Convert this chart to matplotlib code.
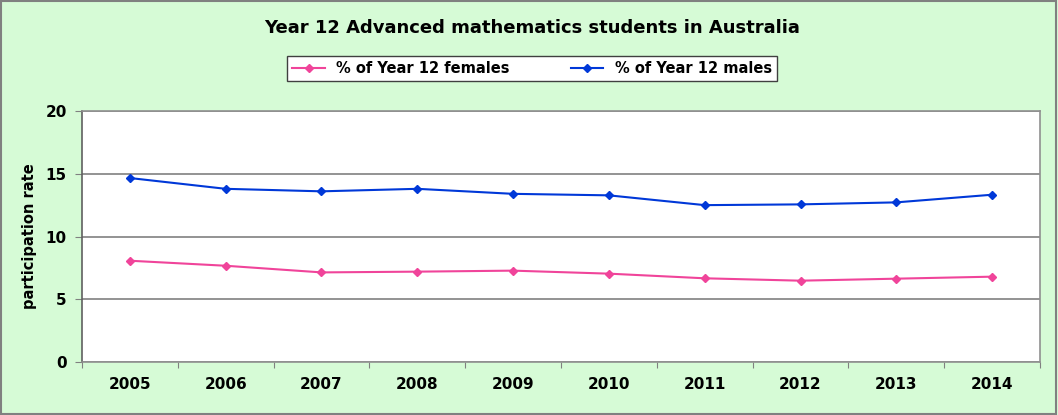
import matplotlib
matplotlib.use("Agg")
import matplotlib.pyplot as plt
from matplotlib.patches import Rectangle
from matplotlib.ticker import FixedLocator, NullFormatter

years = ["2005", "2006", "2007", "2008", "2009", "2010", "2011", "2012", "2013", "2014"]
females = [8.07, 7.67, 7.14, 7.2, 7.28, 7.04, 6.67, 6.48, 6.64, 6.8]
males = [14.66, 13.8, 13.6, 13.8, 13.4, 13.28, 12.5, 12.56, 12.72, 13.33]

bg = "#D6FBD6"
pink = "#F0449A"
blue = "#0038D8"

fig = plt.figure(figsize=(10.58, 4.15), dpi=100, facecolor=bg)
ax = fig.add_axes([0.0775, 0.1277, 0.9055, 0.6048])
ax.set_facecolor("white")

x = list(range(len(years)))
ax.plot(x, females, color=pink, lw=1.5, marker="D", ms=4.5, label="% of Year 12 females")
ax.plot(x, males, color=blue, lw=1.5, marker="D", ms=4.5, label="% of Year 12 males")

ax.set_xlim(-0.5, len(years) - 0.5)
ax.set_ylim(0, 20)
ax.set_yticks([0, 5, 10, 15, 20])
ax.yaxis.grid(True, color="#808080", lw=1.2)
ax.set_axisbelow(True)

# category boundaries carry tick marks, labels sit in the middle
ax.xaxis.set_major_locator(FixedLocator([i - 0.5 for i in range(len(years) + 1)]))
ax.xaxis.set_major_formatter(NullFormatter())
ax.xaxis.set_minor_locator(FixedLocator(x))
ax.set_xticklabels(years, minor=True)
ax.tick_params(axis="x", which="minor", length=0, pad=11)
ax.tick_params(axis="x", which="major", length=4, color="#808080")
ax.tick_params(axis="y", length=5, color="#808080", pad=6)
for lab in ax.get_xticklabels(minor=True) + ax.get_yticklabels():
    lab.set_fontweight("bold")
    lab.set_fontsize(11)

for s in ax.spines.values():
    s.set_color("#909090")
    s.set_linewidth(1.2)
ax.spines["left"].set_color("#606060")

ax.set_ylabel("participation rate", fontsize=10.5, fontweight="bold", labelpad=6)

fig.text(0.503, 0.933, "Year 12 Advanced mathematics students in Australia",
         ha="center", va="center", fontsize=13, fontweight="bold")

leg = fig.legend(loc="center", bbox_to_anchor=(0.503, 0.834), ncol=2,
                 prop={"weight": "bold", "size": 10.5}, fancybox=False,
                 edgecolor="#404040", framealpha=1, handlelength=2.2,
                 columnspacing=4.2, borderpad=0.35, borderaxespad=0)
leg.get_frame().set_linewidth(1)

fig.patches.append(Rectangle((0.001, 0.002), 0.997, 0.995, transform=fig.transFigure,
                             fill=False, edgecolor="#808080", lw=1.5))

fig.savefig("out.png", dpi=100, facecolor=bg)
